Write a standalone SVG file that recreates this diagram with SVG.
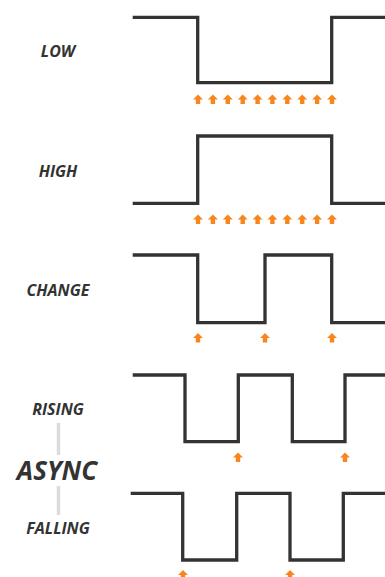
<svg xmlns="http://www.w3.org/2000/svg" width="385" height="577" viewBox="0 0 385 577">
<defs>
<style>
.wave{fill:none;stroke:#333;stroke-width:3.3;stroke-linejoin:miter;stroke-linecap:butt}
.lbl{font-family:"Open Sans","Liberation Sans",sans-serif;font-style:italic;font-weight:bold;font-size:16px;fill:#333;text-anchor:middle}
.big{font-size:26px}
.arr{fill:#F7861E}
.conn{stroke:#dcdcdc;stroke-width:3.5}
</style>
<polygon id="ar" points="0,0 5,5 2.2,5 2.2,9.5 -2.2,9.5 -2.2,5 -5,5"/>
</defs>
<rect width="385" height="577" fill="#fff"/>
<g id="low">
<text class="lbl" x="58" y="57">LOW</text>
<path class="wave" d="M132.7,17.3 H197.7 V82.7 H331.7 V17.3 H385"/>
<g class="arr">
<use href="#ar" x="198" y="94.5"/><use href="#ar" x="212.9" y="94.5"/><use href="#ar" x="227.8" y="94.5"/><use href="#ar" x="242.7" y="94.5"/><use href="#ar" x="257.6" y="94.5"/><use href="#ar" x="272.4" y="94.5"/><use href="#ar" x="287.3" y="94.5"/><use href="#ar" x="302.2" y="94.5"/><use href="#ar" x="317.1" y="94.5"/><use href="#ar" x="332" y="94.5"/>
</g>
</g>
<g id="high">
<text class="lbl" x="58" y="177">HIGH</text>
<path class="wave" d="M132.7,203.3 H197.7 V136 H331.7 V203.3 H385"/>
<g class="arr">
<use href="#ar" x="198" y="214.5"/><use href="#ar" x="212.9" y="214.5"/><use href="#ar" x="227.8" y="214.5"/><use href="#ar" x="242.7" y="214.5"/><use href="#ar" x="257.6" y="214.5"/><use href="#ar" x="272.4" y="214.5"/><use href="#ar" x="287.3" y="214.5"/><use href="#ar" x="302.2" y="214.5"/><use href="#ar" x="317.1" y="214.5"/><use href="#ar" x="332" y="214.5"/>
</g>
</g>
<g id="change">
<text class="lbl" x="58" y="296">CHANGE</text>
<path class="wave" d="M132.7,255 H197.7 V322.7 H265 V255 H331.7 V322.7 H385"/>
<g class="arr">
<use href="#ar" x="198" y="333"/><use href="#ar" x="265" y="333"/><use href="#ar" x="332" y="333"/>
</g>
</g>
<g id="rising">
<text class="lbl" x="58" y="415">RISING</text>
<path class="wave" d="M132.7,375 H185 V441.7 H238.3 V375 H292.3 V441.7 H345 V375 H385"/>
<g class="arr">
<use href="#ar" x="238" y="452.5"/><use href="#ar" x="345" y="452.5"/>
</g>
</g>
<g id="async">
<text class="lbl big" x="57" y="480">ASYNC</text>
</g>
<g id="falling">
<text class="lbl" x="58" y="534">FALLING</text>
<path class="wave" d="M130.7,493.3 H182.7 V560 H236.7 V493.3 H290 V560 H343.3 V493.3 H385"/>
<g class="arr">
<use href="#ar" x="183" y="570"/><use href="#ar" x="290" y="570"/>
</g>
</g>
<g id="connectors">
<line class="conn" x1="58.5" y1="423" x2="58.5" y2="455"/>
<line class="conn" x1="58.5" y1="486" x2="58.5" y2="515"/>
</g>
</svg>
